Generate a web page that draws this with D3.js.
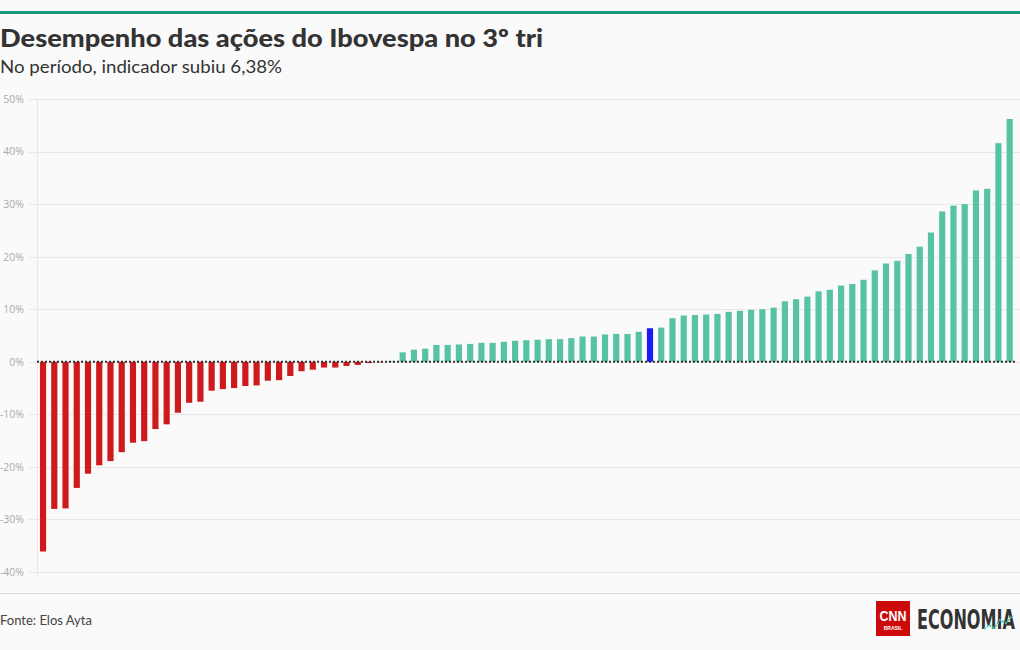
<!DOCTYPE html>
<html>
<head>
<meta charset="utf-8">
<script src="https://cdn.jsdelivr.net/npm/d3@7"></script>
<style>
html,body{margin:0;padding:0;background:#fafafa;}
svg{display:block;}
</style>
</head>
<body>
<svg id="chart" width="1020" height="650"></svg>
<script>
// ---- data ----
const title = "Desempenho das ações do Ibovespa no 3º tri";
const subtitle = "No período, indicador subiu 6,38%";
const source = "Fonte: Elos Ayta";
const values = [
  -36.1, -28.0, -27.9, -24.0, -21.3, -19.7, -18.9, -17.2, -15.4, -15.1,
  -12.8, -11.9, -9.7, -7.8, -7.6, -5.5, -5.2, -5.0, -4.6, -4.5,
  -3.6, -3.5, -2.7, -1.8, -1.5, -1.1, -1.1, -0.8, -0.6, -0.25,
  -0.1, 0.15,
  1.8, 2.3, 2.5, 3.2, 3.2, 3.3, 3.4, 3.6, 3.6, 3.8,
  4.0, 4.1, 4.2, 4.3, 4.3, 4.5, 4.8, 4.8, 5.2, 5.3,
  5.3, 5.7,
  6.38,
  6.5, 8.3, 8.8, 8.9, 9.0, 9.1, 9.5, 9.7, 9.9, 10.0,
  10.3, 11.5, 11.9, 12.4, 13.4, 13.7, 14.5, 14.8, 15.6, 17.4,
  18.7, 19.2, 20.5, 21.9, 24.6, 28.6, 29.7, 30.0, 32.6, 32.9,
  41.6, 46.2
];
const categories = values.map((v, i) => "Ação " + (i + 1));
const highlightCategory = categories[54]; // Ibovespa (6,38%)
const yTicks = [-40, -30, -20, -10, 0, 10, 20, 30, 40, 50];

// ---- drawing ----
const svg = d3.select("#chart");
const W = 1020;

svg.append("rect").attr("x", 0).attr("y", 0).attr("width", W).attr("height", 650).attr("fill", "#fafafa");
svg.append("rect").attr("x", 0).attr("y", 11).attr("width", W).attr("height", 3).attr("fill", "#1e9a7c");

svg.append("text").attr("x", 0).attr("y", 47)
  .attr("font-family", "Lato, 'Open Sans', sans-serif").attr("font-weight", 900)
  .attr("font-size", 25).attr("fill", "#333")
  .attr("textLength", 543).attr("lengthAdjust", "spacingAndGlyphs")
  .text(title);
svg.append("text").attr("x", 0).attr("y", 73)
  .attr("font-family", "Lato, 'Open Sans', sans-serif")
  .attr("font-size", 17).attr("fill", "#333")
  .attr("textLength", 282).attr("lengthAdjust", "spacingAndGlyphs")
  .text(subtitle);

const y = d3.scaleLinear().domain([-40, 50]).range([572, 99]);
const x = d3.scaleBand().domain(categories).range([37.7, 1015]).paddingInner(0.45).paddingOuter(0.2);

// grid
const grid = svg.append("g");
grid.selectAll("line").data(yTicks).join("line")
  .attr("x1", 29).attr("x2", W)
  .attr("y1", d => Math.round(y(d)) + 0.5).attr("y2", d => Math.round(y(d)) + 0.5)
  .attr("stroke", "#e8e8e8").attr("stroke-width", 1);
svg.append("line").attr("x1", 37.5).attr("x2", 37.5).attr("y1", y(50)).attr("y2", y(-40) + 4)
  .attr("stroke", "#e6e6e6");

const yAxis = d3.axisLeft(y).tickValues(yTicks).tickSize(0).tickFormat(d => d + "%");
const ya = svg.append("g").attr("transform", "translate(27,0)").call(yAxis);
ya.select(".domain").remove();
ya.selectAll("text").attr("font-family", "'Open Sans', Lato, sans-serif")
  .attr("font-size", 10.5).attr("fill", "#aaa").attr("dx", 0);

// bars
svg.append("g").selectAll("rect").data(values).join("rect")
  .attr("x", (d, i) => x(categories[i]))
  .attr("width", x.bandwidth())
  .attr("y", d => y(Math.max(0, d)))
  .attr("height", d => Math.abs(y(d) - y(0)))
  .attr("fill", (d, i) => categories[i] === highlightCategory ? "#1a1af2" : (d < 0 ? "#cf1a1d" : "#58c2a4"));

// zero line
svg.append("line").attr("x1", 37).attr("x2", 1015)
  .attr("y1", y(0)).attr("y2", y(0))
  .attr("stroke", "#333").attr("stroke-width", 2).attr("stroke-dasharray", "2,2");

// footer
svg.append("line").attr("x1", 0).attr("x2", W).attr("y1", 593.5).attr("y2", 593.5).attr("stroke", "#dcdcdc");
svg.append("text").attr("x", 0).attr("y", 625)
  .attr("font-family", "Lato, 'Open Sans', sans-serif").attr("font-size", 13).attr("fill", "#444")
  .text(source);

// logo
const logo = svg.append("g");
logo.append("rect").attr("x", 876).attr("y", 601).attr("width", 34).attr("height", 35).attr("fill", "#cc0a0a");
logo.append("text").attr("x", 893).attr("y", 621).attr("text-anchor", "middle")
  .attr("font-family", "'Liberation Sans', Arial, sans-serif").attr("font-weight", 700)
  .attr("font-size", 14).attr("fill", "#fff").attr("textLength", 27).attr("lengthAdjust", "spacingAndGlyphs")
  .text("CNN");
logo.append("text").attr("x", 893).attr("y", 630).attr("text-anchor", "middle")
  .attr("font-family", "'Liberation Sans', Arial, sans-serif").attr("font-weight", 700)
  .attr("font-size", 5).attr("fill", "#fff").text("BRASIL");
const econG = logo.append("g");
const econ = econG.append("text").attr("x", 0).attr("y", 0)
  .attr("font-family", "'DejaVu Sans Condensed', 'Liberation Sans', sans-serif")
  .attr("font-weight", 700)
  .attr("font-size", 27).attr("fill", "#333")
  .text("ECONOMIA");
const econLen = econ.node().getComputedTextLength() || 140;
econG.attr("transform", `translate(917,629) scale(${(98 / econLen).toFixed(3)},1)`);
logo.append("path").attr("d", "M984,629 L989,625 L994,628 L1000,620 L1006,623 L1012,616")
  .attr("fill", "none").attr("stroke", "#3ccfb0").attr("stroke-width", 2).attr("stroke-dasharray", "2,1.5");
</script>
</body>
</html>
